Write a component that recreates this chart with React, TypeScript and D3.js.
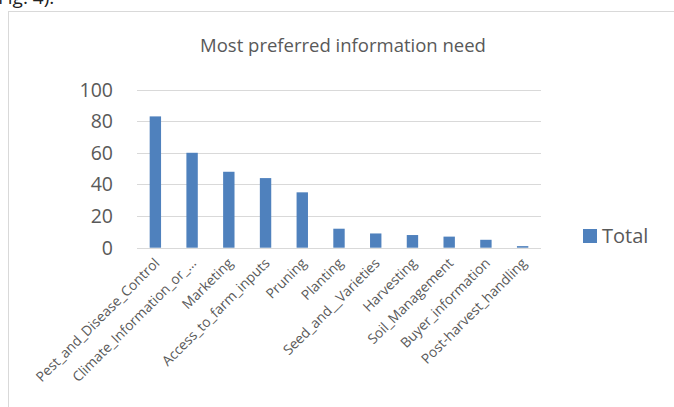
import React from "react";
import * as d3 from "d3";

const categories = [
  "Pest_and_Disease_Control",
  "Climate_Information_or_…",
  "Marketing",
  "Access_to_farm_inputs",
  "Pruning",
  "Planting",
  "Seed_and__Varieties",
  "Harvesting",
  "Soil_Management",
  "Buyer_information",
  "Post-harvest_handling",
];
const values = [83, 60, 48, 44, 35, 12, 9, 8, 7, 5, 1];
const yTicks = [0, 20, 40, 60, 80, 100];
const title = "Most preferred information need";
const seriesName = "Total";

const W = 674;
const H = 407;
const FONT = "'Open Sans', 'Noto Sans', sans-serif";

export default function App() {
  const x = d3.scaleBand<string>().domain(categories).range([137, 541]).paddingInner(0.69).paddingOuter(0.345);
  const y = d3.scaleLinear().domain([0, 100]).range([247.7, 89.5]);
  return (
    <svg width={W} height={H} style={{ position: "absolute", left: 0, top: 0, background: "#fff" }}>
      <text x={-2} y={4} fontFamily={FONT} fontSize={19} fill="#222">Fig. 4).</text>
      <rect x={8.5} y={11.5} width={700} height={420} fill="#fff" stroke="#d9d9d9" strokeWidth={1} />
      <text x={343} y={52} textAnchor="middle" fontFamily={FONT} fontSize={18.5} fill="#595959">{title}</text>
      {yTicks.map((t) => (
        <g key={t}>
          <line x1={137} x2={541} y1={Math.round(y(t)) + 0.5} y2={Math.round(y(t)) + 0.5} stroke="#d9d9d9" strokeWidth={1.2} />
          <text x={113} y={y(t) + 7} textAnchor="end" fontFamily={FONT} fontSize={19.5} fill="#595959">{t}</text>
        </g>
      ))}
      {categories.map((c, i) => (
        <rect key={c} x={x(c)} y={y(values[i])} width={x.bandwidth()} height={y(0) - y(values[i])} fill="#4f81bd" />
      ))}
      {categories.map((c) => {
        const cx = (x(c) as number) + x.bandwidth() / 2 + 5;
        const cy = 264;
        return (
          <text key={c} transform={`translate(${cx},${cy}) rotate(-45)`} textAnchor="end" fontFamily={FONT} fontSize={13.8} fill="#595959">{c}</text>
        );
      })}
      <rect x={583} y={229} width={14} height={14} fill="#4f81bd" />
      <text x={602} y={243} fontFamily={FONT} fontSize={20} fill="#595959">{seriesName}</text>
    </svg>
  );
}
